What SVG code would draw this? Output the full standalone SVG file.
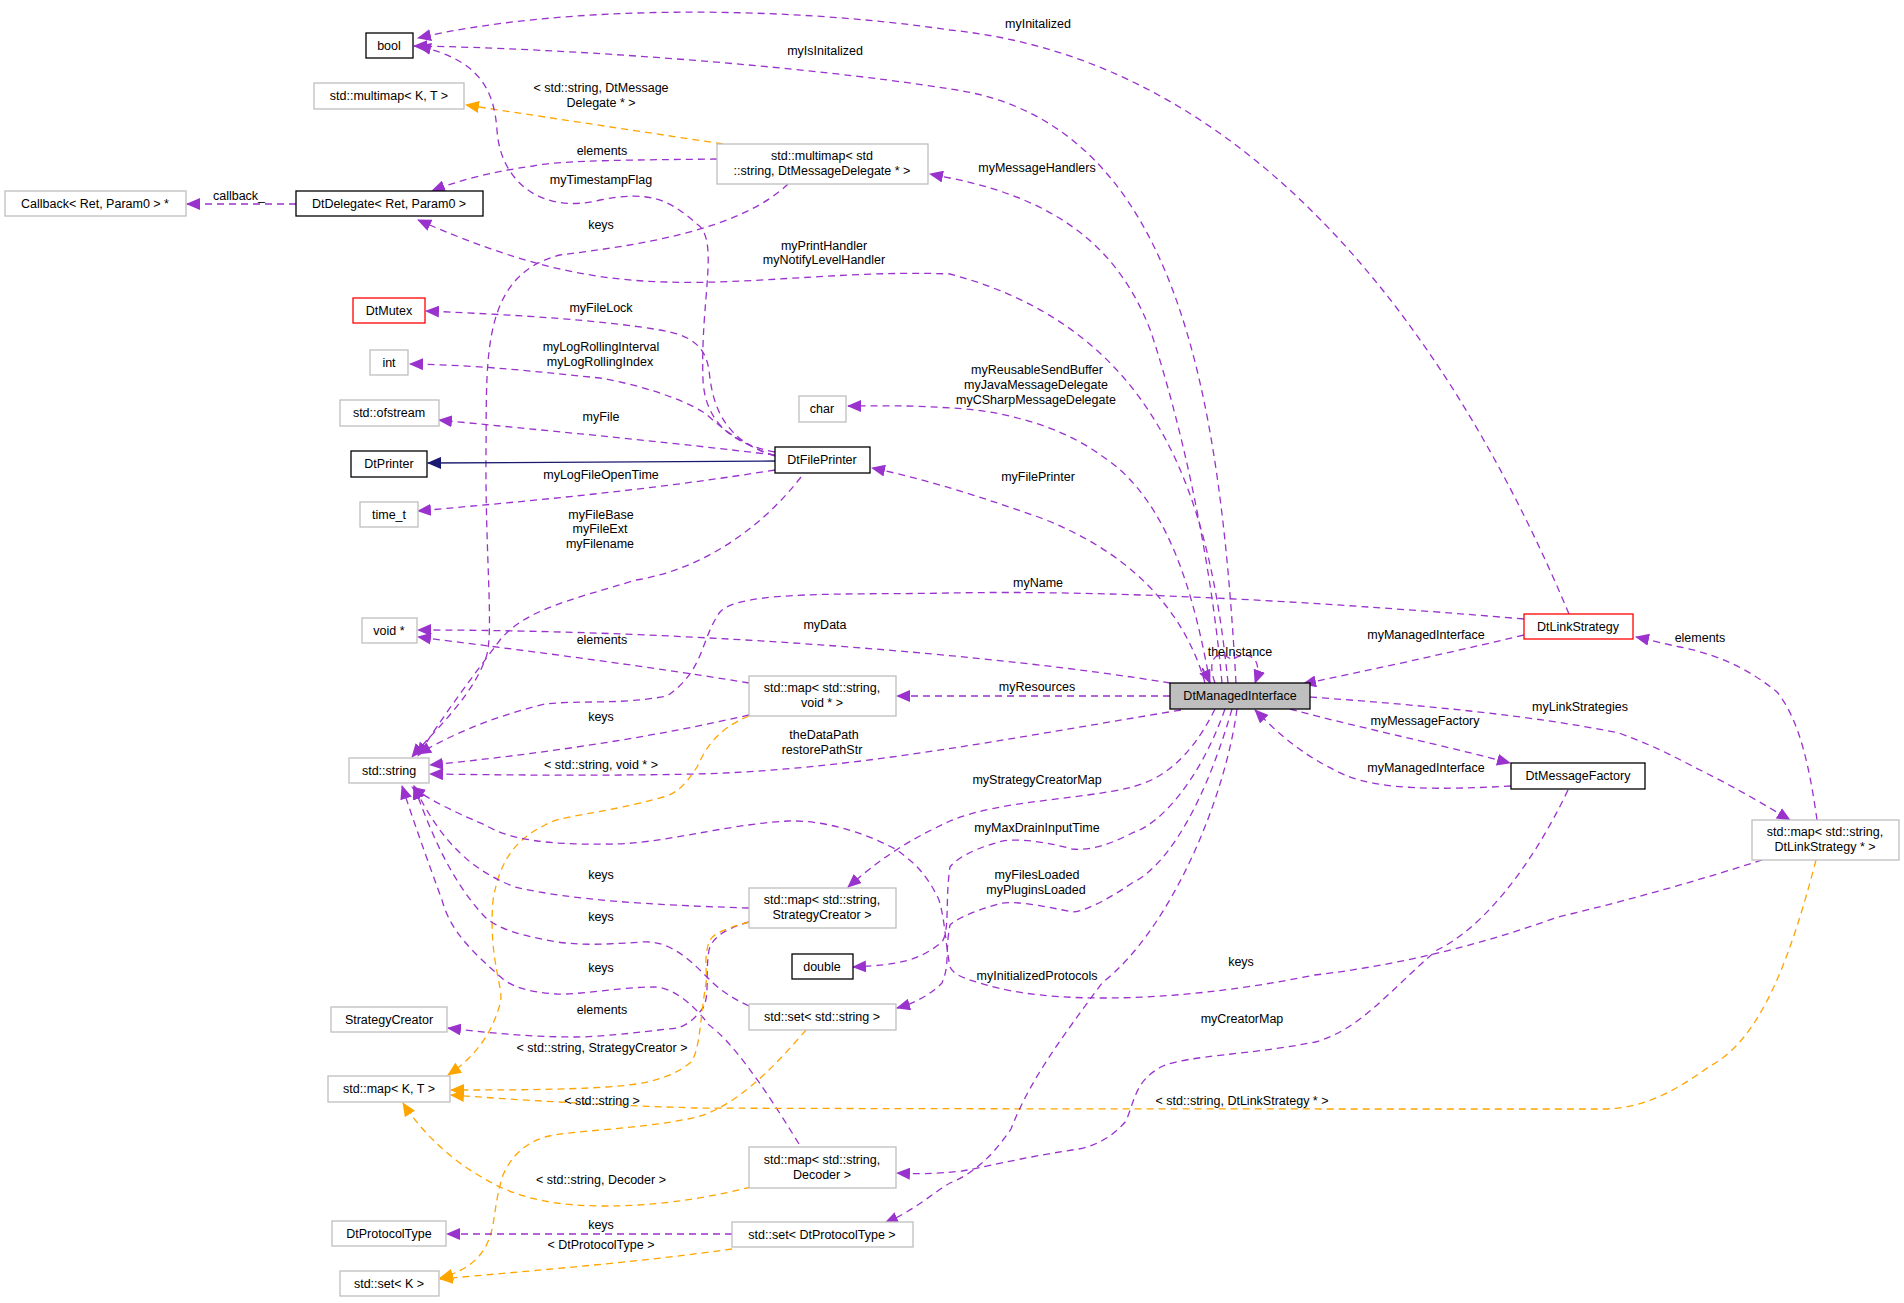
<svg xmlns="http://www.w3.org/2000/svg" width="1904" height="1303" viewBox="0 0 1904 1303">
<style>
text{font-family:"Liberation Sans",Arial,sans-serif;font-size:12.5px;fill:#000;text-anchor:middle}
.n rect{fill:#fff;stroke:#bfbfbf;stroke-width:1.3}
.b rect{stroke:#000}
.r rect{stroke:#ff0000}
.e path{fill:none;stroke:#9a32cd;stroke-width:1.3;stroke-dasharray:7,5;marker-end:url(#mp)}
.e path.o{stroke:#ffa500;marker-end:url(#mo)}
.e path.s{stroke:#191970;stroke-dasharray:none;marker-end:url(#mn)}
</style>
<defs>
<marker id="mp" markerUnits="userSpaceOnUse" markerWidth="14" markerHeight="12" refX="13" refY="6" orient="auto"><path d="M0,0L14,6L0,12z" fill="#9a32cd"/></marker>
<marker id="mo" markerUnits="userSpaceOnUse" markerWidth="14" markerHeight="12" refX="13" refY="6" orient="auto"><path d="M0,0L14,6L0,12z" fill="#ffa500"/></marker>
<marker id="mn" markerUnits="userSpaceOnUse" markerWidth="14" markerHeight="12" refX="13" refY="6" orient="auto"><path d="M0,0L14,6L0,12z" fill="#191970"/></marker>
</defs>
<rect width="1904" height="1303" fill="#fff"/>
<g id="edges" class="e">
<path d="M1569,614 C1450,330 1250,60 950,30 C780,5 560,5 418,38"/>
<path d="M1236,683 C1220,400 1180,120 950,89 C800,65 560,48 414,46"/>
<path class="o" d="M723,144 L466,105"/>
<path d="M717,159 C640,160 560,160 533,166 C490,172 460,180 432,191"/>
<path d="M296,204 L187,204"/>
<path d="M788,184 C740,230 640,245 560,255 C480,275 487,360 486,450 C485,560 495,640 485,660 C470,700 430,735 412,757"/>
<path d="M775,452 C730,444 705,420 703,380 C700,300 720,240 697,224 C670,200 650,190 600,200 C540,215 500,180 497,130 C494,90 480,60 418,46"/>
<path d="M1228,683 C1210,500 1160,330 950,274 C850,270 750,285 667,282 C580,280 510,260 418,220"/>
<path d="M775,456 C720,440 712,400 709,370 C705,345 690,335 660,330 C600,320 520,315 426,311"/>
<path d="M775,456 C730,440 715,420 703,412 C680,398 640,385 600,378 C540,372 480,365 410,364"/>
<path d="M775,455 C650,440 540,430 439,420"/>
<path class="s" d="M775,461 L428,463"/>
<path d="M775,470 C650,490 540,500 418,511"/>
<path d="M801,477 C760,530 700,570 636,580 C570,600 525,610 500,640 C470,680 440,720 418,756"/>
<path d="M1210,683 C1195,600 1170,500 1102,456 C1060,425 1000,410 950,408 C910,405 880,406 848,406"/>
<path d="M1205,683 C1190,630 1150,560 1041,518 C990,500 930,480 872,468"/>
<path d="M1222,683 C1210,550 1180,420 1151,332 C1120,250 1060,200 950,178 C940,176 935,175 930,174"/>
<path d="M1524,619 C1300,600 1100,590 950,593 C850,595 740,590 720,612 C700,640 705,670 667,696 C620,705 580,700 545,704 C500,715 460,730 418,754"/>
<path d="M1170,683 C1000,655 700,630 418,630"/>
<path d="M749,683 C640,665 520,650 418,637"/>
<path d="M749,715 C640,740 530,755 430,765"/>
<path d="M1170,696 L897,696"/>
<path d="M1181,710 C1000,740 850,770 697,774 C600,776 500,775 430,774"/>
<path class="o" d="M749,716 C715,730 705,750 697,767 C685,785 680,790 667,796 C600,815 560,815 545,825 C515,840 500,860 493,900 C488,960 505,990 500,1004 C490,1040 470,1060 448,1075"/>
<path d="M1215,709 C1190,760 1160,780 1132,787 C1080,800 1000,800 950,821 C920,835 890,850 848,887"/>
<path d="M749,908 C650,905 570,900 515,887 C470,870 440,840 414,786"/>
<path d="M1225,709 C1200,780 1160,825 1132,833 C1100,850 1080,850 1072,849 C1040,840 1010,838 999,842 C970,850 955,860 950,867 C945,900 950,930 942,942 C920,960 900,965 853,967"/>
<path d="M749,1006 C725,995 715,985 709,979 C690,960 670,940 642,942 C600,945 580,945 557,942 C520,935 500,930 485,917 C450,880 430,830 414,786"/>
<path d="M1232,709 C1200,820 1160,870 1132,883 C1100,905 1080,912 1072,912 C1040,905 1010,900 999,904 C970,912 955,920 950,925 C945,950 950,965 942,983 C930,995 915,1003 897,1008"/>
<path d="M799,1144 C760,1080 730,1040 709,1025 C690,1000 670,987 654,987 C620,987 580,995 557,994 C525,992 510,985 503,979 C470,950 450,930 442,900 C420,840 410,810 402,786"/>
<path d="M749,922 C720,930 712,940 709,950 C705,975 710,995 703,1008 C690,1025 680,1029 667,1029 C620,1035 590,1037 576,1037 C530,1037 490,1033 448,1028"/>
<path class="o" d="M749,922 C720,930 712,935 709,942 C703,960 708,975 706,983 C700,1020 700,1050 691,1062 C670,1080 640,1085 606,1087 C560,1090 500,1090 451,1090"/>
<path class="o" d="M1816,860 C1790,960 1760,1040 1710,1066 C1670,1095 1640,1109 1601,1109 C1300,1109 900,1109 697,1108 C600,1105 520,1100 451,1095"/>
<path class="o" d="M806,1030 C780,1060 740,1105 697,1117 C640,1130 570,1130 545,1137 C520,1145 510,1160 503,1175 C495,1200 495,1220 491,1233 C485,1255 470,1270 440,1278"/>
<path class="o" d="M751,1187 C700,1200 650,1206 606,1206 C560,1206 520,1200 485,1179 C450,1160 420,1130 403,1103"/>
<path d="M1568,790 C1530,870 1480,930 1437,950 C1390,990 1360,1030 1315,1042 C1250,1055 1190,1055 1163,1066 C1135,1080 1135,1100 1126,1121 C1110,1140 1090,1148 1072,1150 C1020,1158 980,1168 962,1171 C935,1174 915,1174 897,1173"/>
<path d="M1237,709 C1225,800 1170,930 1102,983 C1060,1040 1030,1080 1011,1129 C990,1160 970,1175 950,1183 C930,1195 915,1210 885,1223"/>
<path d="M1762,860 C1700,880 1630,900 1558,917 C1480,945 1400,965 1315,975 C1240,990 1170,998 1102,998 C1040,998 1000,990 980,983 C960,978 952,972 950,967 C945,940 945,920 939,900 C925,870 910,860 897,850 C860,830 820,820 788,821 C720,825 660,845 606,844 C550,845 510,840 485,825 C450,810 430,800 412,787"/>
<path d="M732,1234 L447,1234"/>
<path class="o" d="M732,1249 C640,1262 540,1270 440,1279"/>
<path d="M1215,683 C1205,655 1220,650 1232,660 C1245,650 1265,655 1255,683"/>
<path d="M1210,683 C1200,668 1200,660 1210,683"/>
<path d="M1524,635 C1440,655 1370,670 1303,684"/>
<path d="M1290,709 C1360,728 1430,742 1510,763"/>
<path d="M1511,786 C1440,790 1380,790 1345,775 C1300,755 1275,730 1255,710"/>
<path d="M1310,697 C1420,705 1530,715 1619,733 C1660,748 1680,760 1700,770 C1740,790 1765,805 1790,820"/>
<path d="M1817,820 C1810,770 1800,720 1777,692 C1750,670 1720,655 1680,647 C1665,644 1650,640 1636,637"/>
</g>
<g id="labels">
<text x="1038" y="28">myInitalized</text>
<text x="825" y="55">myIsInitalized</text>
<text x="601" y="92">&lt; std::string, DtMessage</text>
<text x="601" y="107">Delegate * &gt;</text>
<text x="602" y="155">elements</text>
<text x="239" y="200">callback_</text>
<text x="601" y="229">keys</text>
<text x="601" y="184">myTimestampFlag</text>
<text x="824" y="250">myPrintHandler</text>
<text x="824" y="264">myNotifyLevelHandler</text>
<text x="601" y="312">myFileLock</text>
<text x="601" y="351">myLogRollingInterval</text>
<text x="600" y="366">myLogRollingIndex</text>
<text x="601" y="421">myFile</text>
<text x="601" y="479">myLogFileOpenTime</text>
<text x="601" y="519">myFileBase</text>
<text x="600" y="533">myFileExt</text>
<text x="600" y="548">myFilename</text>
<text x="1037" y="374">myReusableSendBuffer</text>
<text x="1036" y="389">myJavaMessageDelegate</text>
<text x="1036" y="404">myCSharpMessageDelegate</text>
<text x="1038" y="481">myFilePrinter</text>
<text x="1037" y="172">myMessageHandlers</text>
<text x="1038" y="587">myName</text>
<text x="825" y="629">myData</text>
<text x="602" y="644">elements</text>
<text x="601" y="721">keys</text>
<text x="1037" y="691">myResources</text>
<text x="824" y="739">theDataPath</text>
<text x="822" y="754">restorePathStr</text>
<text x="601" y="769">&lt; std::string, void * &gt;</text>
<text x="1037" y="784">myStrategyCreatorMap</text>
<text x="601" y="879">keys</text>
<text x="1037" y="832">myMaxDrainInputTime</text>
<text x="601" y="921">keys</text>
<text x="1037" y="879">myFilesLoaded</text>
<text x="1036" y="894">myPluginsLoaded</text>
<text x="601" y="972">keys</text>
<text x="602" y="1014">elements</text>
<text x="602" y="1052">&lt; std::string, StrategyCreator &gt;</text>
<text x="1242" y="1105">&lt; std::string, DtLinkStrategy * &gt;</text>
<text x="602" y="1105">&lt; std::string &gt;</text>
<text x="601" y="1184">&lt; std::string, Decoder &gt;</text>
<text x="1242" y="1023">myCreatorMap</text>
<text x="1037" y="980">myInitializedProtocols</text>
<text x="1241" y="966">keys</text>
<text x="601" y="1229">keys</text>
<text x="601" y="1249">&lt; DtProtocolType &gt;</text>
<text x="1240" y="656">theInstance</text>
<text x="1426" y="639">myManagedInterface</text>
<text x="1425" y="725">myMessageFactory</text>
<text x="1426" y="772">myManagedInterface</text>
<text x="1580" y="711">myLinkStrategies</text>
<text x="1700" y="642">elements</text>
</g>
<g id="DtManagedInterface" class="n b"><rect x="1170" y="683" width="140" height="26" style="fill:#bfbfbf"/><text x="1240" y="700">DtManagedInterface</text></g>
<g id="bool" class="n b"><rect x="366" y="33" width="47" height="25"/><text x="389" y="50">bool</text></g>
<g id="multimapKT" class="n"><rect x="314" y="83" width="150" height="26"/><text x="389" y="100">std::multimap&lt; K, T &gt;</text></g>
<g id="multimapMsg" class="n"><rect x="717" y="144" width="211" height="40"/><text x="822" y="160">std::multimap&lt; std</text><text x="822" y="175">::string, DtMessageDelegate * &gt;</text></g>
<g id="Callback" class="n"><rect x="5" y="191" width="181" height="25"/><text x="95" y="208">Callback&lt; Ret, Param0 &gt; *</text></g>
<g id="DtDelegate" class="n b"><rect x="296" y="191" width="187" height="25"/><text x="389" y="208">DtDelegate&lt; Ret, Param0 &gt;</text></g>
<g id="DtMutex" class="n r"><rect x="353" y="298" width="72" height="25"/><text x="389" y="315">DtMutex</text></g>
<g id="int" class="n"><rect x="370" y="350" width="38" height="25"/><text x="389" y="367">int</text></g>
<g id="ofstream" class="n"><rect x="340" y="400" width="99" height="26"/><text x="389" y="417">std::ofstream</text></g>
<g id="DtPrinter" class="n b"><rect x="351" y="451" width="76" height="26"/><text x="389" y="468">DtPrinter</text></g>
<g id="DtFilePrinter" class="n b"><rect x="775" y="447" width="95" height="26"/><text x="822" y="464">DtFilePrinter</text></g>
<g id="time_t" class="n"><rect x="360" y="502" width="58" height="25"/><text x="389" y="519">time_t</text></g>
<g id="char" class="n"><rect x="799" y="396" width="47" height="26"/><text x="822" y="413">char</text></g>
<g id="voidp" class="n"><rect x="362" y="618" width="55" height="25"/><text x="389" y="635">void *</text></g>
<g id="DtLinkStrategy" class="n r"><rect x="1524" y="614" width="109" height="25"/><text x="1578" y="631">DtLinkStrategy</text></g>
<g id="mapVoid" class="n"><rect x="749" y="676" width="147" height="40"/><text x="822" y="692">std::map&lt; std::string,</text><text x="822" y="707">void * &gt;</text></g>
<g id="string" class="n"><rect x="349" y="758" width="80" height="25"/><text x="389" y="775">std::string</text></g>
<g id="mapSC" class="n"><rect x="749" y="888" width="147" height="40"/><text x="822" y="904">std::map&lt; std::string,</text><text x="822" y="919">StrategyCreator &gt;</text></g>
<g id="double" class="n b"><rect x="792" y="954" width="61" height="25"/><text x="822" y="971">double</text></g>
<g id="setString" class="n"><rect x="749" y="1004" width="147" height="26"/><text x="822" y="1021">std::set&lt; std::string &gt;</text></g>
<g id="StrategyCreator" class="n"><rect x="331" y="1007" width="116" height="25"/><text x="389" y="1024">StrategyCreator</text></g>
<g id="mapKT" class="n"><rect x="328" y="1076" width="122" height="26"/><text x="389" y="1093">std::map&lt; K, T &gt;</text></g>
<g id="mapDecoder" class="n"><rect x="749" y="1147" width="147" height="41"/><text x="822" y="1164">std::map&lt; std::string,</text><text x="822" y="1179">Decoder &gt;</text></g>
<g id="DtProtocolType" class="n"><rect x="332" y="1221" width="114" height="25"/><text x="389" y="1238">DtProtocolType</text></g>
<g id="setProto" class="n"><rect x="732" y="1222" width="181" height="25"/><text x="822" y="1239">std::set&lt; DtProtocolType &gt;</text></g>
<g id="setK" class="n"><rect x="340" y="1271" width="99" height="25"/><text x="389" y="1288">std::set&lt; K &gt;</text></g>
<g id="DtMessageFactory" class="n b"><rect x="1511" y="763" width="134" height="26"/><text x="1578" y="780">DtMessageFactory</text></g>
<g id="mapLink" class="n"><rect x="1752" y="820" width="147" height="40"/><text x="1825" y="836">std::map&lt; std::string,</text><text x="1825" y="851">DtLinkStrategy * &gt;</text></g>
</svg>
